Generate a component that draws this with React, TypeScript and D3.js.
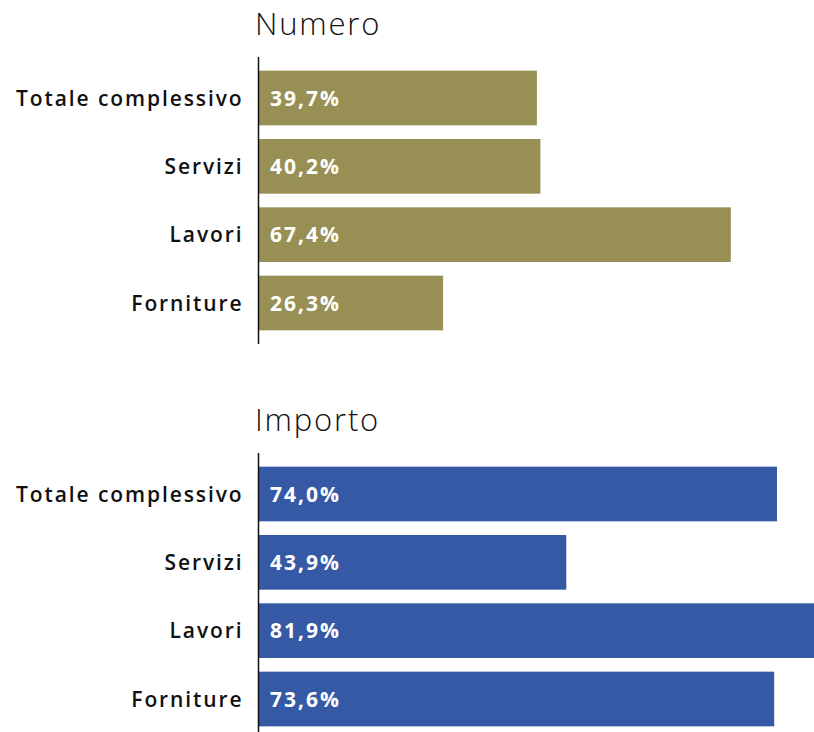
import React from "react";
import * as d3 from "d3";

const categories = ["Totale complessivo", "Servizi", "Lavori", "Forniture"];
const numeroValues = [39.7, 40.2, 67.4, 26.3];
const importoValues = [74.0, 43.9, 81.9, 73.6];
const panelTitles = ["Numero", "Importo"];

const W = 814;
const H = 732;
const x0 = 259;
const FONT = "'Open Sans', sans-serif";

const x = d3.scaleLinear().domain([0, 100]).range([x0, x0 + 700]);
const fmt = (v: number) => v.toFixed(1).replace(".", ",") + "%";

function Panel({ title, values, top, color }: { title: string; values: number[]; top: number; color: string }) {
  const y = d3.scaleBand<string>().domain(categories).range([top, top + 287]).paddingInner(0.2).paddingOuter(0.2);
  return (
    <g>
      <text x={255} y={top - 22} fontSize={31} fontWeight={300} fill="#111" fontFamily={FONT} letterSpacing={1.8}>
        {title}
      </text>
      {categories.map((c, i) => (
        <g key={c}>
          <rect x={x(0)} y={y(c)!} width={x(values[i]) - x(0)} height={y.bandwidth()} fill={color} />
          <text x={243.5} y={y(c)! + y.bandwidth() / 2} dy="0.36em" textAnchor="end" fontSize={21} fontWeight={600} fill="#111" fontFamily={FONT} letterSpacing={1.9}>
            {c}
          </text>
          <text x={x(0) + 11} y={y(c)! + y.bandwidth() / 2} dy="0.36em" fontSize={21} fontWeight={700} fill="#fff" fontFamily={FONT} letterSpacing={2}>
            {fmt(values[i])}
          </text>
        </g>
      ))}
      <line x1={x0 - 0.5} x2={x0 - 0.5} y1={top} y2={top + 287} stroke="#111" strokeWidth={1.5} />
    </g>
  );
}

export default function App() {
  return (
    <svg width={W} height={H} style={{ position: "absolute", left: 0, top: 0, overflow: "hidden" }}>
      <rect width={W} height={H} fill="#fff" />
      <Panel title={panelTitles[0]} values={numeroValues} top={57} color="#978F54" />
      <Panel title={panelTitles[1]} values={importoValues} top={453} color="#3559A5" />
    </svg>
  );
}
